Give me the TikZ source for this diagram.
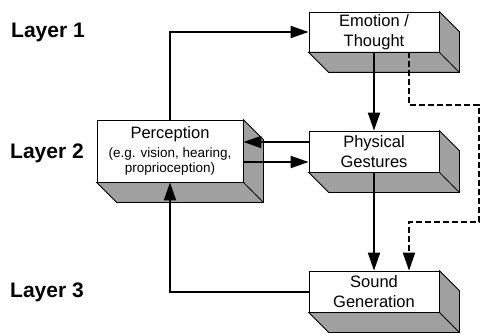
\documentclass[tikz,border=0pt]{standalone}
\usepackage{fontspec}
\setmainfont{Liberation Sans}
\usetikzlibrary{arrows.meta}
\definecolor{boxgray}{RGB}{160,160,160}
\newcommand\smalltxt{\fontsize{13.5}{14}\selectfont}
\tikzset{
 blk/.style={draw=black, line width=0.8pt, fill=white, minimum width=130pt, minimum height=41pt, inner sep=0pt, align=center, font=\fontsize{16.5}{20.5}\selectfont},
 conn/.style={line width=2pt, -{Triangle[length=18pt,width=12pt]}},
 dconn/.style={conn, dash pattern=on 6pt off 3pt},
 side/.style={draw=black, line width=0.8pt, fill=boxgray, line join=miter},
 layer/.style={anchor=west, font=\fontsize{21}{25}\selectfont\bfseries, inner sep=0pt},
}
\begin{document}
\begin{tikzpicture}[x=1pt,y=-1pt]
\useasboundingbox (0,0) rectangle (481,334);
\node[blk, minimum width=146pt, minimum height=62pt, font=\fontsize{16.5}{15}\selectfont] (perc) at (170,151) {Perception\\[4pt]{\smalltxt (e.g. vision, hearing,}\\{\smalltxt proprioception)}};
\node[blk, minimum height=40pt] (emo) at (374,32) {Emotion /\\Thought};
\node[blk] (phys) at (374,151.5) {Physical\\Gestures};
\node[blk] (snd) at (374,291.5) {Sound\\Generation};
\foreach \n in {perc,emo,phys,snd}{
  \filldraw[side] (\n.south west) -- ([shift={(20pt,-20pt)}]\n.south west) -- ([shift={(20pt,-20pt)}]\n.south east) -- ([shift={(20pt,-20pt)}]\n.north east) -- (\n.north east) -- (\n.south east) -- cycle;
  \draw[line width=0.8pt] (\n.south east) -- ([shift={(20pt,-20pt)}]\n.south east);
}
\node[layer] (l1) at (11,32) {Layer 1};
\node[layer] (l2) at (10,153) {Layer 2};
\node[layer] (l3) at (10,292) {Layer 3};
\coordinate (d1) at (479,105);
\coordinate (d2) at (479,222);
\draw[conn] (perc.north) |- (emo.west);
\draw[conn] (emo.south) -- (phys.north);
\draw[conn] (phys.south) -- (snd.north);
\draw[dconn] ([xshift=35pt]emo.south) |- (d1) -- (d2) -| ([xshift=35pt]snd.north);
\draw[conn] ([yshift=9.5pt]phys.west) -- ([yshift=9.5pt]phys.west -| perc.east);
\draw[conn] ([yshift=-10.5pt]phys.west -| perc.east) -- ([yshift=-10.5pt]phys.west);
\draw[conn] (snd.west) -| (perc.south);
\end{tikzpicture}
\end{document}
